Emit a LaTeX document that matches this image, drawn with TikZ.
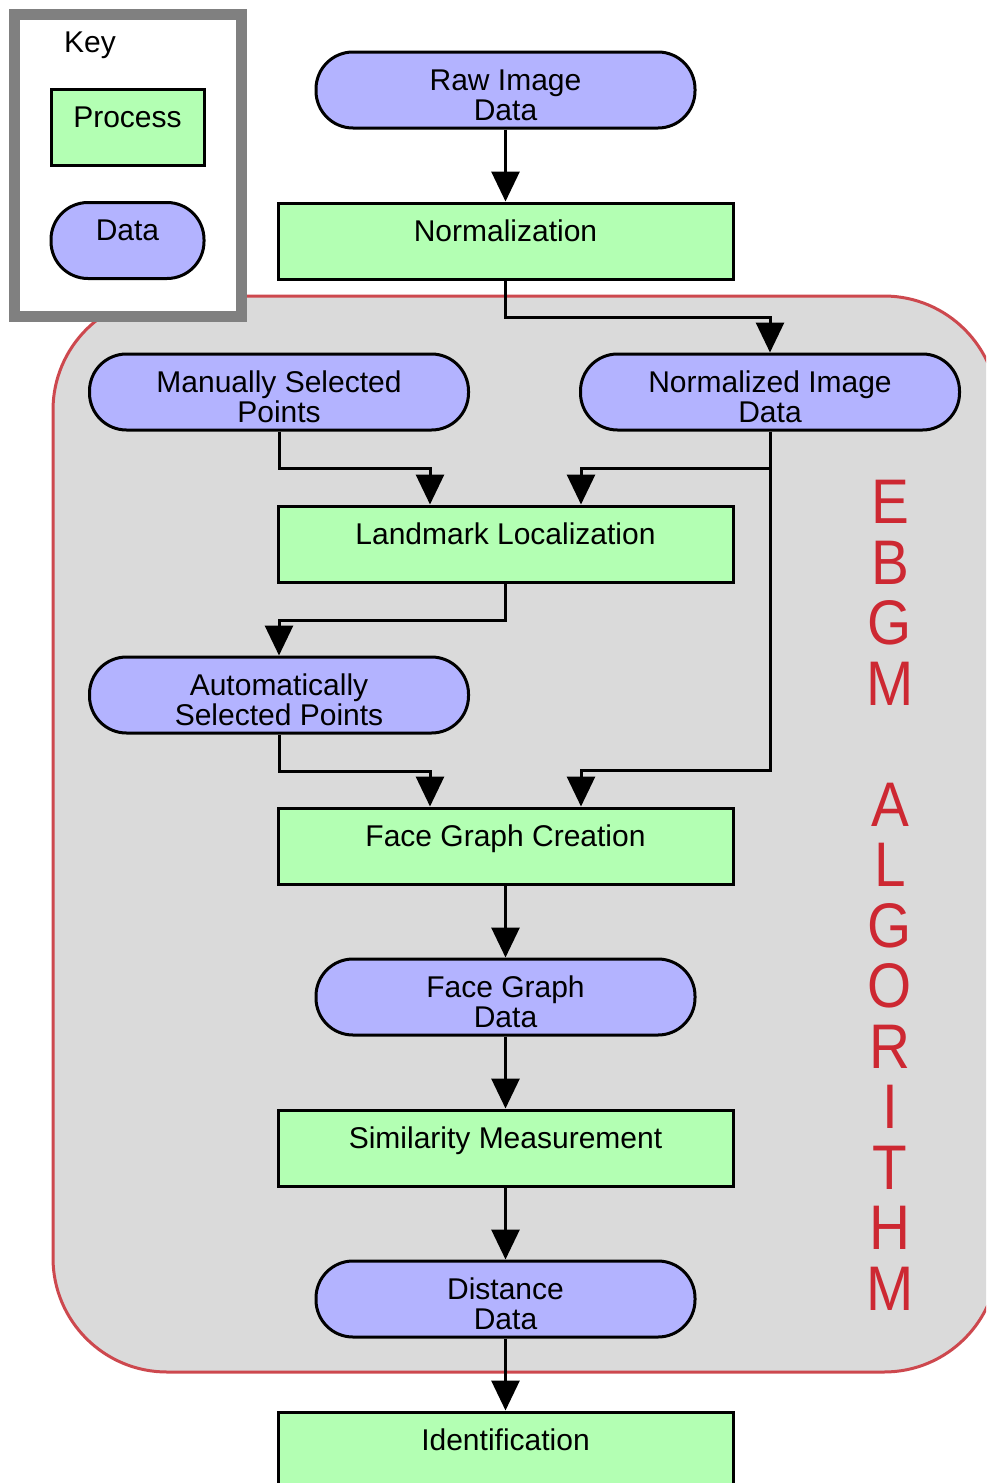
\documentclass[tikz,border=0pt]{standalone}
\usepackage{fontspec}
\setmainfont{Liberation Sans}
\newfontfamily\ebgmfont[FakeStretch=0.9]{Liberation Sans}
\usetikzlibrary{arrows.meta}
\definecolor{procg}{RGB}{179,255,179}
\definecolor{datab}{RGB}{179,179,255}
\definecolor{regfill}{RGB}{218,218,218}
\definecolor{regred}{RGB}{205,72,78}
\definecolor{txtred}{RGB}{205,40,50}
\definecolor{keygray}{RGB}{128,128,128}
\begin{document}
\begin{tikzpicture}[x=1pt,y=-1pt,
  boxbase/.style={draw=black, line width=3pt, minimum height=76pt, inner sep=0pt,
    text height=4pt, text depth=4pt, align=center, font=\fontsize{30}{30}\selectfont},
  proc/.style={boxbase, rectangle, fill=procg, minimum width=455pt},
  datum/.style={boxbase, rectangle, rounded corners=37pt, fill=datab, minimum width=379pt},
  twoline/.style={text height=64pt, text depth=4pt},
  arr/.style={line width=3pt, -{Triangle[length=30pt,width=28pt]}}]
\useasboundingbox (0,0) rectangle (986,1483);
\clip (0,0) rectangle (986,1483);
% EBGM region
\draw[fill=regfill, draw=regred, line width=3pt, rounded corners=114pt] (53,296) rectangle (998,1372);
% key
\draw[keygray, fill=white, line width=11pt] (14.5,14.5) rectangle (241,316);
\node[anchor=base, inner sep=0pt, font=\fontsize{30}{30}\selectfont] (keylbl) at (90,52) {Key};
\node[proc, minimum width=153pt] (kproc) at (127.5,127.5) {Process};
\node[datum, minimum width=153pt] (kdata) at (127.5,240.5) {Data};
% main nodes
\node[datum, twoline] (raw) at (505.5,90) {Raw Image\\Data};
\node[proc] (norm) at (505.5,241) {Normalization};
\node[datum, twoline] (manual) at (279,392) {Manually Selected\\Points};
\node[datum, twoline] (normimg) at (770,392) {Normalized Image\\Data};
\node[proc] (land) at (505.5,544) {Landmark Localization};
\node[datum, twoline] (auto) at (279,695) {Automatically\\Selected Points};
\node[proc] (fgc) at (505.5,846) {Face Graph Creation};
\node[datum, twoline] (fgd) at (505.5,997) {Face Graph\\Data};
\node[proc] (sim) at (505.5,1148) {Similarity Measurement};
\node[datum, twoline] (dist) at (505.5,1299) {Distance\\Data};
\node[proc] (ident) at (505.5,1450) {Identification};
% vertical label
\node[anchor=base, inner sep=0pt, align=center, text=txtred,
  font=\ebgmfont\fontsize{63}{60.5}\selectfont] (ebgm) at (890,1310)
  {E\\B\\G\\M\\[60.5pt]A\\L\\G\\O\\R\\I\\T\\H\\M};
% connectors
\draw[arr] (raw) -- (norm);
\draw[arr] (norm.south) -- ++(0,37) -| (normimg.north);
\draw[arr] (manual.south) -- ++(0,37) -| ([xshift=-75.5pt]land.north);
\draw[arr] (normimg.south) -- ++(0,37) -| ([xshift=75.5pt]land.north);
\draw[arr] (normimg.south) -- ++(0,339) -| ([xshift=75.5pt]fgc.north);
\draw[arr] (land.south) -- ++(0,37) -| (auto.north);
\draw[arr] (auto.south) -- ++(0,37) -| ([xshift=-75.5pt]fgc.north);
\draw[arr] (fgc) -- (fgd);
\draw[arr] (fgd) -- (sim);
\draw[arr] (sim) -- (dist);
\draw[arr] (dist) -- (ident);
\end{tikzpicture}
\end{document}
